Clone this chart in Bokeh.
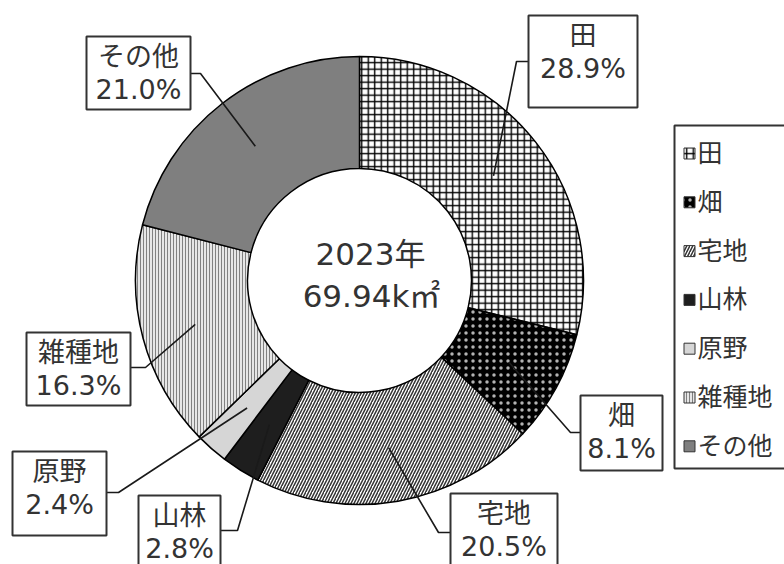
import math

from bokeh.core.properties import value
from bokeh.embed import file_html
from bokeh.plotting import figure
from bokeh.resources import INLINE

# Land-use composition, 2023
categories = ["田", "畑", "宅地", "山林", "原野", "雑種地", "その他"]
shares = [28.9, 8.1, 20.5, 2.8, 2.4, 16.3, 21.0]
year_label = "2023年"
area_label = "69.94k㎡"

# Fill / hatch style of each category
styles = {
    "田": dict(fill_color="white", hatch_pattern="+", hatch_color="black", hatch_scale=6.5, hatch_weight=1.4, hatch_alpha=1.0),
    "畑": dict(fill_color="black", hatch_pattern=".", hatch_color="white", hatch_scale=7, hatch_weight=0.4, hatch_alpha=0.7),
    "宅地": dict(fill_color="white", hatch_pattern="/", hatch_color="#333333", hatch_scale=6, hatch_weight=1.5, hatch_alpha=1.0),
    "山林": dict(fill_color="#1e1e1e", hatch_pattern=" ", hatch_color="black", hatch_scale=1, hatch_weight=1, hatch_alpha=1.0),
    "原野": dict(fill_color="#d6d6d6", hatch_pattern=" ", hatch_color="black", hatch_scale=1, hatch_weight=1, hatch_alpha=1.0),
    "雑種地": dict(fill_color="#e6e6e6", hatch_pattern="|", hatch_color="#808080", hatch_scale=3, hatch_weight=1.0, hatch_alpha=1.0),
    "その他": dict(fill_color="#7f7f7f", hatch_pattern=" ", hatch_color="black", hatch_scale=1, hatch_weight=1, hatch_alpha=1.0),
}

W, H = 784, 564
FONT = value("DejaVu Sans, Noto Sans CJK JP")
TEXT_COLOR = "#333333"


def Y(y_px):
    """Convert a top-down pixel row into the plot's bottom-up data coordinate."""
    return H - y_px


p = figure(width=W, height=H, x_range=(0, W), y_range=(0, H),
           output_backend="svg", toolbar_location=None,
           x_axis_location=None, y_axis_location=None, min_border=0)
p.grid.visible = False
p.outline_line_color = None
p.background_fill_color = "white"
p.border_fill_color = "white"

# Donut geometry
cx, cy_px = 359, 280
cy = Y(cy_px)
r_in, r_out = 112, 224

total = sum(shares)
mid_angles = {}
acc = 0.0
for name, share in zip(categories, shares):
    a0 = acc / total
    acc += share
    a1 = acc / total
    mid_angles[name] = math.pi * (a0 + a1)  # clockwise from 12 o'clock
    p.annular_wedge(x=cx, y=cy, inner_radius=r_in, outer_radius=r_out,
                    start_angle=math.pi / 2 - 2 * math.pi * a1,
                    end_angle=math.pi / 2 - 2 * math.pi * a0,
                    direction="anticlock",
                    line_color="black", line_width=1.5,
                    **styles[name])

# Centre caption
p.text(x=[cx + 11], y=[Y(253)], text=[year_label], text_font=FONT,
       text_font_size="31px", text_color=TEXT_COLOR,
       text_align="center", text_baseline="middle")
p.text(x=[cx + 12], y=[Y(295)], text=[area_label], text_font=FONT,
       text_font_size="31px", text_color=TEXT_COLOR,
       text_align="center", text_baseline="middle")

# Callout boxes: (left, right, top, bottom) and the elbow of the leader line
callouts = {
    "田": ((528, 637, 15, 107), (516, 61)),
    "畑": ((580, 662, 395, 470), (570, 432)),
    "宅地": ((450, 557, 493, 578), (438, 532)),
    "山林": ((138, 220, 495, 578), (237, 530)),
    "原野": ((12, 106, 451, 535), (118, 492)),
    "雑種地": ((26, 130, 332, 405), (145, 367)),
    "その他": ((86, 190, 36, 109), (200, 73)),
}

r_anchor = (r_in + r_out) / 2 + 2
for name, share in zip(categories, shares):
    (x0, x1, y0, y1), (ex, ey) = callouts[name]
    th = mid_angles[name]
    ax = cx + r_anchor * math.sin(th)
    ay = cy + r_anchor * math.cos(th)
    attach_x = x0 if x0 > ex else x1
    p.line(x=[ax, ex, attach_x], y=[ay, Y(ey), Y(ey)],
           line_color="#1a1a1a", line_width=1.6)

for name, share in zip(categories, shares):
    (x0, x1, y0, y1), _ = callouts[name]
    p.quad(left=x0, right=x1, top=Y(y0), bottom=Y(y1),
           fill_color="white", line_color="#333333", line_width=2)
    xm = (x0 + x1) / 2
    ym = (y0 + min(y1, y0 + 73)) / 2
    p.text(x=[xm, xm], y=[Y(ym - 16.5), Y(ym + 16.5)],
           text=[name, f"{share:.1f}%"], text_font=FONT,
           text_font_size="27px", text_color=TEXT_COLOR,
           text_align="center", text_baseline="middle")

# Legend panel
p.quad(left=674, right=795, top=Y(125), bottom=Y(468),
       fill_color="white", line_color="#333333", line_width=2)
row0, row_step = 153, 48.8
for i, name in enumerate(categories):
    ry = Y(row0 + i * row_step)
    p.rect(x=[689], y=[ry], width=11, height=11,
           line_color="#333333", line_width=1, **styles[name])
    p.text(x=[697], y=[ry], text=[name], text_font=FONT,
           text_font_size="25px", text_color=TEXT_COLOR,
           text_align="left", text_baseline="middle")

open("out.html", "w").write(file_html(p, INLINE))
